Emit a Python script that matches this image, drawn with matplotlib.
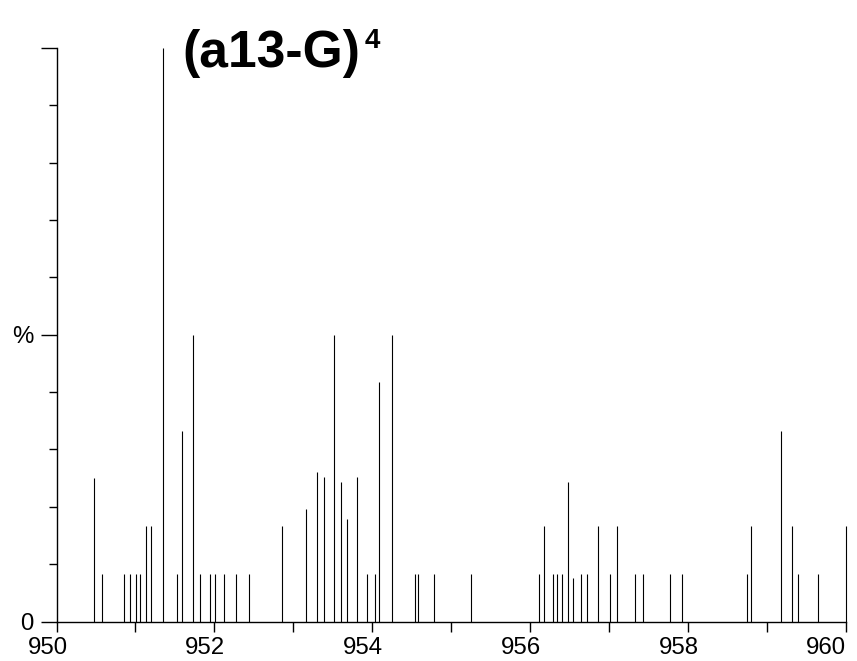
import matplotlib
matplotlib.use("Agg")
import matplotlib.pyplot as plt
from matplotlib.ticker import FixedLocator
from matplotlib.transforms import ScaledTranslation

plt.rcParams['font.family'] = ['Liberation Sans', 'DejaVu Sans']

# Peak centroids (m/z) and relative intensities (%)
mz = [950.48, 950.57, 950.855, 950.935, 951.007, 951.058, 951.134, 951.193,
      951.349, 951.522, 951.586, 951.725, 951.814, 951.940, 952.004, 952.118,
      952.270, 952.438, 952.850, 953.160, 953.296, 953.394, 953.517, 953.598,
      953.674, 953.809, 953.933, 954.038, 954.085, 954.254, 954.539, 954.581,
      954.785, 955.252, 956.114, 956.169, 956.292, 956.338, 956.402, 956.474,
      956.537, 956.639, 956.719, 956.864, 957.008, 957.097, 957.329, 957.431,
      957.774, 957.922, 958.745, 958.803, 959.177, 959.320, 959.388, 959.647,
      959.995]
intensity = [25.0, 8.3, 8.3, 8.3, 8.3, 8.3, 16.7, 16.7,
             100.0, 8.3, 33.3, 50.0, 8.3, 8.3, 8.3, 8.3,
             8.3, 8.3, 16.7, 19.6, 26.0, 25.2, 50.0, 24.3,
             17.9, 25.2, 8.3, 8.3, 41.7, 50.0, 8.3, 8.3,
             8.3, 8.3, 8.3, 16.7, 8.3, 8.3, 8.3, 24.3,
             7.5, 8.3, 8.3, 16.7, 8.3, 16.7, 8.3, 8.3,
             8.3, 8.3, 8.3, 16.7, 33.3, 16.7, 8.3, 8.3,
             16.7]

x_ticks = list(range(950, 961))
y_major = [0, 50, 100]
y_major_labels = ["0", "%", ""]
y_minor = [10, 20, 30, 40, 60, 70, 80, 90]

W, H = 857, 661
fig = plt.figure(figsize=(W / 100, H / 100), dpi=100)
ax = fig.add_axes([56.5 / W, 39.5 / H, (846 - 56.5) / W, (621.5 - 48) / H])

ax.vlines(mz, 0, intensity, colors="black", linewidth=0.8, clip_on=False)

ax.set_xlim(950, 960)
ax.set_ylim(0, 100)

for side in ("top", "right"):
    ax.spines[side].set_visible(False)
for side in ("left", "bottom"):
    ax.spines[side].set_linewidth(1.0)

# x axis: a tick at every unit, labels on even values
ax.set_xticks(x_ticks)
ax.set_xticklabels([str(v) if v % 2 == 0 else "" for v in x_ticks])
ax.tick_params(axis="x", direction="out", length=7, width=1.0, pad=4,
               labelsize=17.3)
shift = ScaledTranslation(-9 / 100, 0, fig.dpi_scale_trans)
for v, lab in zip(x_ticks, ax.get_xticklabels()):
    if v == x_ticks[-1]:
        lab.set_horizontalalignment("right")
    else:
        lab.set_transform(lab.get_transform() + shift)

# y axis: long ticks at 0 / 50 / 100, short ticks every 10
ax.yaxis.set_major_locator(FixedLocator(y_major))
ax.set_yticklabels(y_major_labels)
ax.yaxis.set_minor_locator(FixedLocator(y_minor))
ax.tick_params(axis="y", which="major", direction="out", length=11.5,
               width=1.0, pad=5, labelsize=17.3)
ax.tick_params(axis="y", which="minor", direction="out", length=5.8, width=1.0)

fig.text(182 / W, (H - 67) / H, "(a13-G)", fontsize=37.2, fontweight="bold",
         ha="left", va="baseline")
fig.text(365 / W, (H - 48) / H, "4", fontsize=20, fontweight="bold",
         ha="left", va="baseline")

fig.savefig("out.png", dpi=100)
